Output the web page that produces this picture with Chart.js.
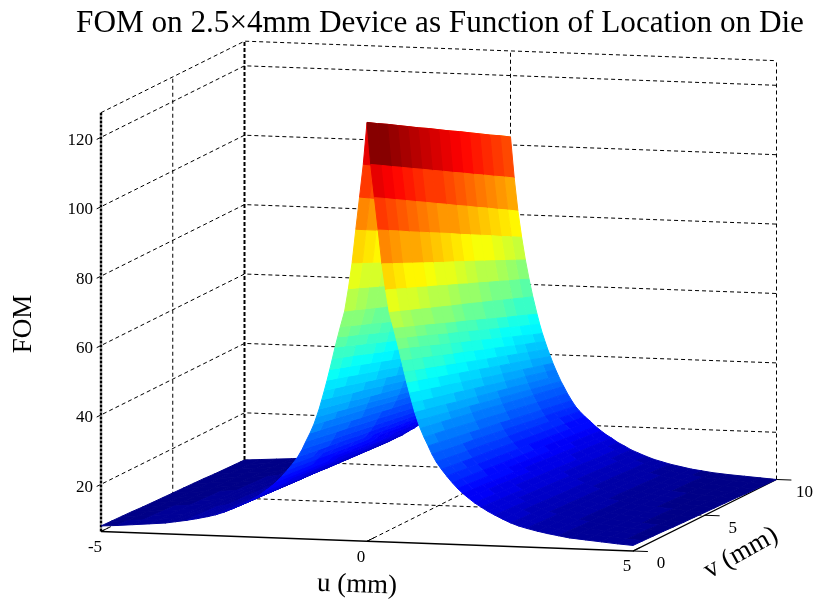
<!DOCTYPE html>
<html>
<head>
  <meta charset="UTF-8" />
  <title>FOM on Die</title>
  <script src="https://cdn.jsdelivr.net/npm/chart.js"></script>
  <style>
    html, body { margin: 0; padding: 0; background: #fff; }
    canvas { display: block; }
  </style>
</head>
<body>

<canvas id="fomChart" width="819" height="603"></canvas>

<script>
  // 1) Values
  const titleText = 'FOM on 2.5×4mm Device as Function of Location on Die';
  const uTicks = [-5, 0, 5];
  const vTicks = [0, 5, 10];
  const fomTicks = [20, 40, 60, 80, 100, 120];
  const fomMin = 6.4;
  const fomMax = 127.1;

  // sample positions, the surface is the same on both sides of u = 0
  const vSamples = [0, 0.71, 1.43, 2.14, 2.86, 3.57, 4.29, 5, 5.71, 6.43, 7.14, 7.86, 8.57, 9.29, 10];
  const uDistance = [0, 0.07, 0.14, 0.21, 0.28, 0.35, 0.42, 0.5, 0.55, 0.6, 0.65, 0.7, 0.75, 0.8, 0.85, 0.9, 0.95, 1, 1.07, 1.15, 1.22, 1.3, 1.4, 1.5, 1.6, 1.7, 1.8, 1.9, 2.02, 2.15, 2.27, 2.4, 2.55, 2.7, 2.85, 3, 3.2, 3.4, 3.6, 3.8, 4.1, 4.4, 4.7, 5];

  // one row per uDistance, one value per vSamples
  const fomRows = [
    [127.1, 125.3, 123.6, 121.8, 120, 118.2, 116.5, 114.7, 112.9, 111.2, 109.4, 107.6, 105.8, 104.1, 102.3],
    [115, 113.3, 111.5, 109.8, 108, 106.3, 104.5, 102.8, 101, 99.3, 97.5, 95.8, 94, 92.3, 90.5],
    [105.5, 103.8, 102, 100.3, 98.5, 96.8, 95, 93.3, 91.5, 89.8, 88, 86.3, 84.5, 82.8, 81],
    [96.2, 94.6, 93, 91.3, 89.7, 88.1, 86.5, 84.9, 83.2, 81.6, 80, 78.4, 76.7, 75.1, 73.5],
    [86.5, 85.1, 83.7, 82.3, 80.9, 79.5, 78.1, 76.8, 75.4, 74, 72.6, 71.2, 69.8, 68.4, 67],
    [79, 77.8, 76.5, 75.3, 74, 72.8, 71.5, 70.3, 69, 67.8, 66.5, 65.3, 64, 62.8, 61.5],
    [72.5, 71.4, 70.2, 69.1, 67.9, 66.8, 65.6, 64.5, 63.4, 62.2, 61.1, 59.9, 58.8, 57.6, 56.5],
    [68, 66.8, 65.6, 64.5, 63.3, 62.1, 60.9, 59.8, 58.6, 57.4, 56.2, 55, 53.9, 52.7, 51.5],
    [65, 63.8, 62.7, 61.5, 60.3, 59.1, 58, 56.8, 55.6, 54.5, 53.3, 52.1, 50.9, 49.8, 48.6],
    [62, 60.9, 59.7, 58.6, 57.4, 56.3, 55.1, 54, 52.9, 51.7, 50.6, 49.4, 48.3, 47.1, 46],
    [58.7, 57.6, 56.6, 55.5, 54.4, 53.3, 52.3, 51.2, 50.1, 49.1, 48, 46.9, 45.8, 44.8, 43.7],
    [55.5, 54.5, 53.5, 52.5, 51.5, 50.5, 49.5, 48.5, 47.5, 46.5, 45.5, 44.5, 43.5, 42.5, 41.5],
    [52.4, 51.5, 50.6, 49.6, 48.7, 47.8, 46.9, 46, 45, 44.1, 43.2, 42.3, 41.4, 40.4, 39.5],
    [49.5, 48.6, 47.8, 46.9, 46.1, 45.2, 44.4, 43.5, 42.6, 41.8, 40.9, 40.1, 39.2, 38.4, 37.5],
    [46.7, 45.9, 45.1, 44.3, 43.6, 42.8, 42, 41.2, 40.4, 39.6, 38.8, 38.1, 37.3, 36.5, 35.7],
    [44, 43.3, 42.6, 41.9, 41.1, 40.4, 39.7, 39, 38.3, 37.6, 36.9, 36.1, 35.4, 34.7, 34],
    [41.7, 41, 40.4, 39.7, 39, 38.4, 37.7, 37, 36.4, 35.7, 35.1, 34.4, 33.7, 33.1, 32.4],
    [39.5, 38.9, 38.3, 37.7, 37.1, 36.5, 35.9, 35.3, 34.6, 34, 33.4, 32.8, 32.2, 31.6, 31],
    [37, 36.4, 35.9, 35.3, 34.7, 34.1, 33.6, 33, 32.4, 31.9, 31.3, 30.7, 30.1, 29.6, 29],
    [34.5, 34, 33.4, 32.9, 32.4, 31.8, 31.3, 30.8, 30.2, 29.7, 29.1, 28.6, 28.1, 27.5, 27],
    [32.2, 31.7, 31.2, 30.7, 30.3, 29.8, 29.3, 28.8, 28.3, 27.8, 27.3, 26.9, 26.4, 25.9, 25.4],
    [30, 29.6, 29.1, 28.7, 28.3, 27.9, 27.4, 27, 26.6, 26.1, 25.7, 25.3, 24.9, 24.4, 24],
    [27.9, 27.5, 27.1, 26.7, 26.4, 26, 25.6, 25.2, 24.8, 24.4, 24, 23.7, 23.3, 22.9, 22.5],
    [26, 25.7, 25.3, 25, 24.6, 24.3, 23.9, 23.6, 23.3, 22.9, 22.6, 22.2, 21.9, 21.5, 21.2],
    [24.2, 23.9, 23.6, 23.3, 22.9, 22.6, 22.3, 22, 21.7, 21.4, 21.1, 20.7, 20.4, 20.1, 19.8],
    [22.6, 22.3, 22, 21.7, 21.5, 21.2, 20.9, 20.6, 20.3, 20, 19.7, 19.5, 19.2, 18.9, 18.6],
    [21.2, 20.9, 20.7, 20.4, 20.1, 19.9, 19.6, 19.4, 19.1, 18.8, 18.6, 18.3, 18, 17.8, 17.5],
    [20, 19.8, 19.5, 19.3, 19, 18.8, 18.5, 18.3, 18.1, 17.8, 17.6, 17.3, 17.1, 16.8, 16.6],
    [18.6, 18.4, 18.1, 17.9, 17.7, 17.5, 17.2, 17, 16.8, 16.5, 16.3, 16.1, 15.9, 15.6, 15.4],
    [17.4, 17.2, 17, 16.8, 16.5, 16.3, 16.1, 15.9, 15.7, 15.5, 15.3, 15, 14.8, 14.6, 14.4],
    [16.3, 16.1, 15.9, 15.7, 15.5, 15.3, 15.1, 14.9, 14.6, 14.4, 14.2, 14, 13.8, 13.6, 13.4],
    [15.3, 15.1, 14.9, 14.7, 14.5, 14.3, 14.1, 14, 13.8, 13.6, 13.4, 13.2, 13, 12.8, 12.6],
    [14.2, 14, 13.8, 13.7, 13.5, 13.3, 13.1, 13, 12.8, 12.6, 12.4, 12.2, 12.1, 11.9, 11.7],
    [13.2, 13, 12.9, 12.7, 12.5, 12.4, 12.2, 12.1, 11.9, 11.7, 11.6, 11.4, 11.2, 11.1, 10.9],
    [12.4, 12.3, 12.1, 12, 11.8, 11.7, 11.5, 11.4, 11.2, 11.1, 10.9, 10.8, 10.6, 10.5, 10.3],
    [11.8, 11.7, 11.5, 11.4, 11.2, 11.1, 10.9, 10.8, 10.6, 10.5, 10.3, 10.2, 10, 9.9, 9.7],
    [11.1, 11, 10.8, 10.7, 10.5, 10.4, 10.2, 10.1, 10, 9.8, 9.7, 9.5, 9.4, 9.2, 9.1],
    [10.5, 10.4, 10.2, 10.1, 9.9, 9.8, 9.6, 9.5, 9.4, 9.2, 9.1, 8.9, 8.8, 8.6, 8.5],
    [10, 9.9, 9.7, 9.6, 9.5, 9.3, 9.2, 9.1, 8.9, 8.8, 8.6, 8.5, 8.4, 8.2, 8.1],
    [9.5, 9.4, 9.2, 9.1, 9, 8.9, 8.7, 8.6, 8.5, 8.3, 8.2, 8.1, 8, 7.8, 7.7],
    [9.1, 9, 8.8, 8.7, 8.6, 8.5, 8.3, 8.2, 8.1, 7.9, 7.8, 7.7, 7.6, 7.4, 7.3],
    [8.7, 8.6, 8.5, 8.3, 8.2, 8.1, 8, 7.9, 7.7, 7.6, 7.5, 7.4, 7.2, 7.1, 7],
    [8.3, 8.2, 8.1, 8, 7.8, 7.7, 7.6, 7.5, 7.4, 7.3, 7.2, 7, 6.9, 6.8, 6.7],
    [8, 7.9, 7.8, 7.7, 7.5, 7.4, 7.3, 7.2, 7.1, 7, 6.9, 6.7, 6.6, 6.5, 6.4]
  ];

  // 2) Fixed view of the box, (u, v, fom) -> value on the flat x / y scales
  function project(u, v, fom) {
    return {
      x: 367 + 53.2 * u + 14.35 * v,
      y: 541.25 + 1.95 * u - 7.15 * v - 3.47 * (fom - fomMin)
    };
  }

  // MATLAB jet with 64 levels
  function jetColor(fom) {
    const level = Math.min(63, Math.floor((fom - fomMin) / (fomMax - fomMin) * 64));
    const t = (level + 0.5) / 64;
    const part = c => Math.round(255 * Math.max(0, Math.min(1, 1.5 - Math.abs(4 * t - c))));
    return `rgb(${part(3)}, ${part(2)}, ${part(1)})`;
  }

  // 3) Datasets, listed in the order they get painted
  const painted = [];

  function addLine(points, color, width, dash) {
    painted.push({
      data: points,
      showLine: true,
      fill: false,
      pointRadius: 0,
      borderColor: color,
      borderWidth: width,
      borderDash: dash
    });
  }

  const gridDash = [4, 3];
  fomTicks.concat(fomMax).forEach(z => {
    addLine([project(-5, z === fomMax ? 0 : -0.3, z), project(-5, 10, z), project(5, 10, z)], '#000', 1, gridDash);
  });
  uTicks.forEach(u => addLine([project(u, 10, fomMin), project(u, 10, fomMax)], '#000', u === -5 ? 2 : 1, u === -5 ? [4, 2] : gridDash));
  addLine([project(-5, 5, fomMin), project(-5, 5, fomMax)], '#000', 1, gridDash);
  addLine([project(-5, 0, fomMin), project(-5, 0, fomMax)], '#000', 2.4, [3, 1]);
  addLine([project(0, 0, fomMin), project(0, 10, fomMin)], '#000', 1, gridDash);
  addLine([project(-5, 5, fomMin), project(5, 5, fomMin)], '#000', 1, gridDash);
  addLine([project(-5, 10, fomMin), project(5, 10, fomMin)], '#000', 1, gridDash);
  addLine([project(-5, 0, fomMin), project(-5, 10, fomMin)], '#000', 1, gridDash);

  // front axes and their ticks
  addLine([project(-5, 0, fomMin), project(5, 0, fomMin), project(5, 10, fomMin)], '#000', 1.3, []);
  vTicks.forEach(v => addLine([project(5, v, fomMin), project(5.28, v, fomMin)], '#000', 1, []));
  uTicks.forEach(u => addLine([project(u, 0, fomMin), project(u, 0.5, fomMin)], '#000', 1, []));

  // surface cells, far ones first: v falling, u rising
  const uSamples = uDistance.slice(1).reverse().map(d => -d).concat(uDistance);
  const rowAt = i => fomRows[Math.abs(i - (uDistance.length - 1))];
  for (let j = vSamples.length - 2; j >= 0; j--) {
    for (let i = 0; i < uSamples.length - 1; i++) {
      const corners = [
        project(uSamples[i], vSamples[j], rowAt(i)[j]),
        project(uSamples[i + 1], vSamples[j], rowAt(i + 1)[j]),
        project(uSamples[i + 1], vSamples[j + 1], rowAt(i + 1)[j + 1]),
        project(uSamples[i], vSamples[j + 1], rowAt(i)[j + 1])
      ];
      const color = jetColor(rowAt(i)[j]);
      painted.push({
        data: corners.concat(corners[0]),
        showLine: true,
        fill: 'shape',
        backgroundColor: color,
        borderColor: color,
        borderWidth: 1,
        pointRadius: 0
      });
    }
  }

  // chart.js paints the highest order first
  painted.forEach((ds, idx) => { ds.order = painted.length - idx; });

  // 4) Title, tick labels and axis names
  const textPlugin = {
    id: 'boxText',
    afterDatasetsDraw(chart) {
      const ctx = chart.ctx;
      const px = p => ({ x: chart.scales.x.getPixelForValue(p.x), y: chart.scales.y.getPixelForValue(p.y) });
      const put = (text, x, y, size, align, angle) => {
        ctx.save();
        ctx.translate(x, y);
        ctx.rotate((angle || 0) * Math.PI / 180);
        ctx.font = `${size}px "Liberation Serif"`;
        ctx.fillStyle = '#000';
        ctx.textAlign = align;
        ctx.textBaseline = 'middle';
        ctx.fillText(text, 0, 0);
        ctx.restore();
      };
      put(titleText, 440, 24, 31.2, 'center');
      fomTicks.forEach(z => {
        const p = px(project(-5, 0, z));
        put(String(z), p.x - 8, p.y + 3, 17, 'right');
      });
      uTicks.forEach(u => {
        const p = px(project(u, 0, fomMin));
        put(String(u), p.x - 6, p.y + 16, 17, 'center');
      });
      vTicks.forEach(v => {
        const p = px(project(5, v, fomMin));
        put(String(v), p.x + 28, p.y + 13, 17, 'center');
      });
      put('FOM', 24, 324, 27, 'center', -90);
      put('u (mm)', 357, 585, 27, 'center', 2);
      put('v (mm)', 741, 553, 27, 'center', -29);
    }
  };

  new Chart(document.getElementById('fomChart').getContext('2d'), {
    type: 'scatter',
    data: { datasets: painted },
    options: {
      responsive: false,
      animation: false,
      events: [],
      layout: { padding: 0 },
      elements: { line: { tension: 0 } },
      scales: {
        x: { type: 'linear', display: false, min: 0, max: 819 },
        y: { type: 'linear', display: false, min: 0, max: 603, reverse: true }
      },
      plugins: {
        legend: { display: false },
        tooltip: { enabled: false },
        title: { display: false }
      }
    },
    plugins: [textPlugin]
  });
</script>

</body>
</html>
